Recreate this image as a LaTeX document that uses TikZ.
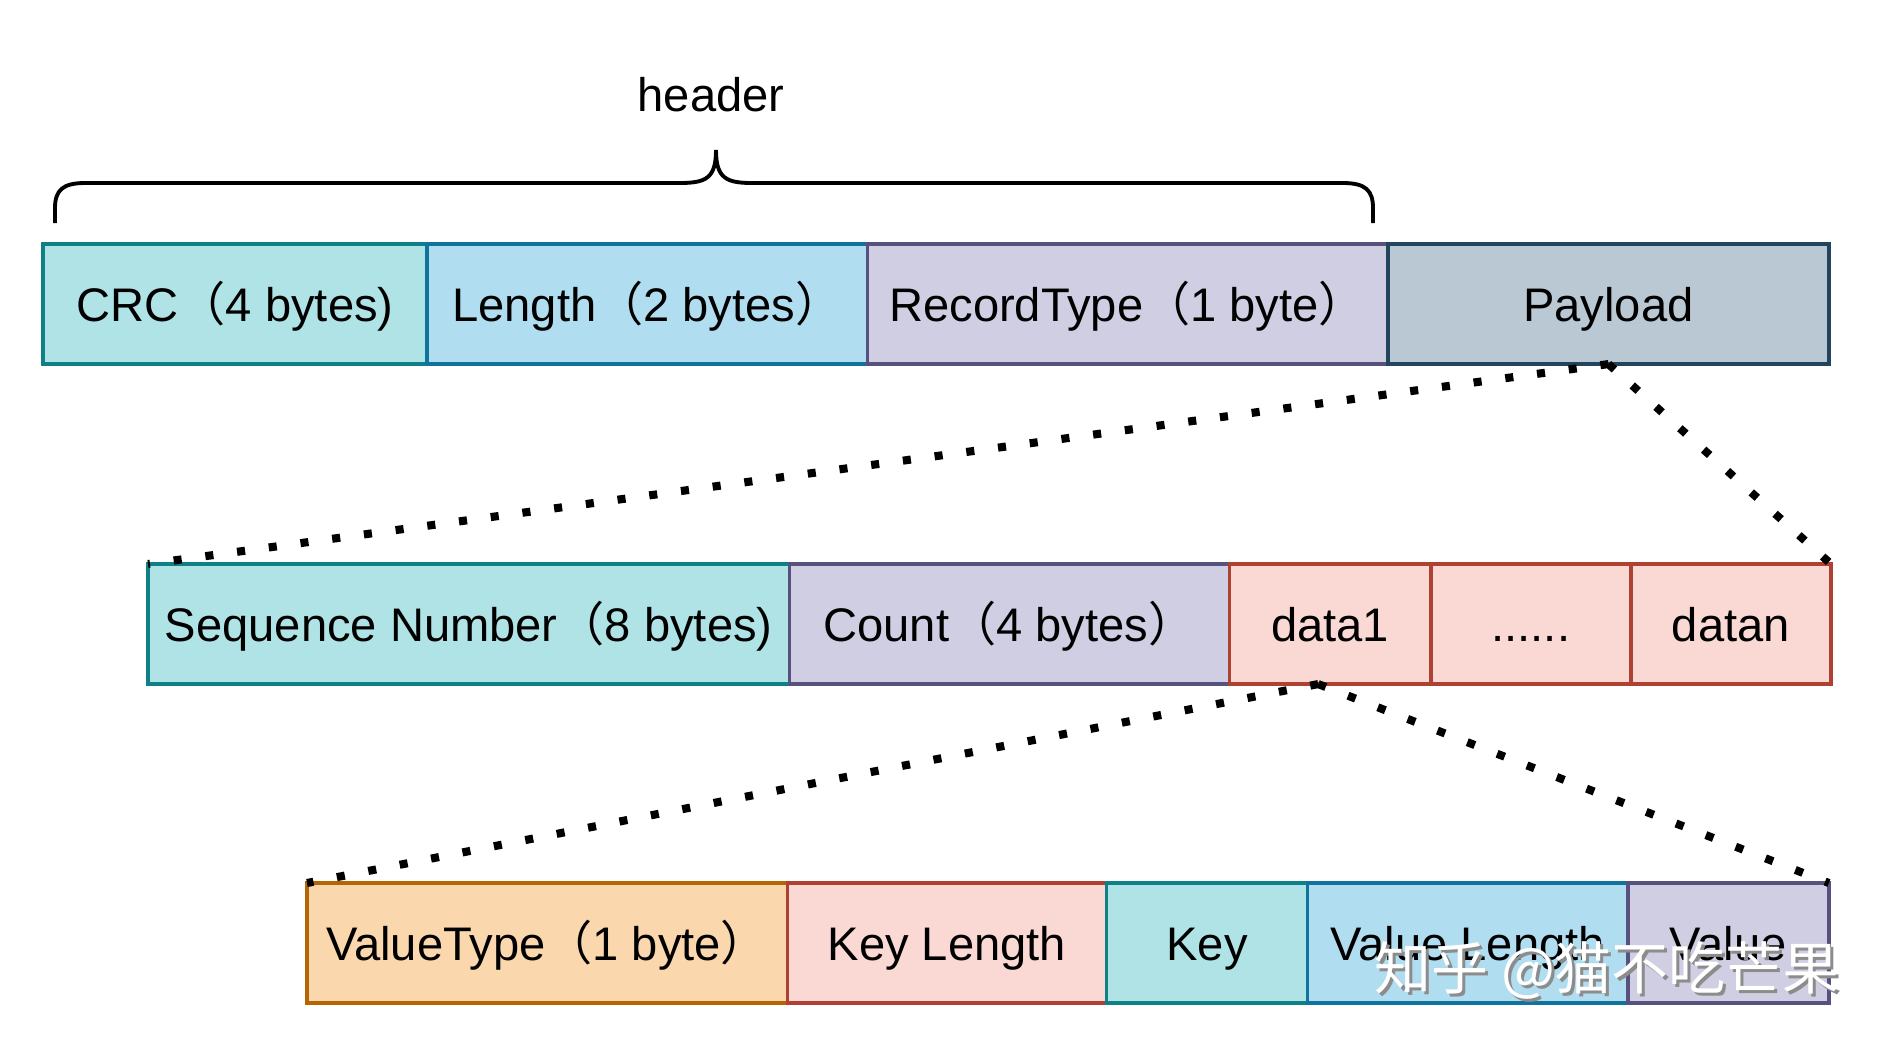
\documentclass[tikz,border=0pt]{standalone}
\usepackage{fontspec}
\setmainfont{Liberation Sans}
\newfontfamily\cjk{Noto Sans CJK SC}
\usetikzlibrary{positioning}
\definecolor{crcfill}{HTML}{B0E3E6}\definecolor{crcline}{HTML}{0E8088}
\definecolor{lenfill}{HTML}{B1DDF0}\definecolor{lenline}{HTML}{10739E}
\definecolor{typefill}{HTML}{D0CEE2}\definecolor{typeline}{HTML}{56517E}
\definecolor{payfill}{HTML}{BAC8D3}\definecolor{payline}{HTML}{23445D}
\definecolor{datafill}{HTML}{FAD9D5}\definecolor{dataline}{HTML}{AE4132}
\definecolor{vtfill}{HTML}{FAD7AC}\definecolor{vtline}{HTML}{B46504}
\newcommand{\fwparen}{{\cjk （}}
\newcommand{\fwclose}{{\cjk ）}}
\tikzset{x=0.01cm,y=-0.01cm,
field/.style={draw,line width=1pt,minimum height=1.2cm,inner sep=0pt,outer sep=0pt,text height=0.34cm,text depth=0pt,font=\fontsize{13.4}{16}\selectfont},
dotline/.style={line width=2.3pt,dash pattern=on 2.3pt off 6.8pt}}

\begin{document}
\begin{tikzpicture}
\useasboundingbox (0,0) rectangle (1888,1048);
\node[font=\fontsize{13.4}{16}\selectfont,anchor=base] (hdr) at (711,111) {header};
\coordinate (bl) at (55,223);
\coordinate (btip) at (716,150);
\coordinate (br) at (1373,223);
\draw[line width=1.1pt] (bl) -- (55,208) .. controls (55,190) and (63,183) .. (85,183) -- (680,183)
  .. controls (706,183) and (716,178) .. (btip) .. controls (716,178) and (726,183) .. (752,183)
  -- (1343,183) .. controls (1365,183) and (1373,190) .. (1373,208) -- (br);

\node[field,fill=crcfill,draw=crcline,minimum width=3.84cm,anchor=north west] (crc) at (43,244) {CRC\fwparen4 bytes)};
\node[field,fill=lenfill,draw=lenline,minimum width=4.4cm,right=0pt of crc] (len) {Length\fwparen2 bytes\fwclose};
\node[field,fill=typefill,draw=typeline,minimum width=5.2cm,right=0pt of len] (rtype) {RecordType\fwparen1 byte\fwclose};
\node[field,fill=payfill,draw=payline,minimum width=4.41cm,right=0pt of rtype] (pay) {Payload};

\node[field,fill=crcfill,draw=crcline,minimum width=6.41cm,anchor=north west] (seq) at (148,564) {Sequence Number\fwparen8 bytes)};
\node[field,fill=typefill,draw=typeline,minimum width=4.4cm,right=0pt of seq] (count) {Count\fwparen4 bytes\fwclose};
\node[field,fill=datafill,draw=dataline,minimum width=2.01cm,right=0pt of count] (data1) {data1};
\node[field,fill=datafill,draw=dataline,minimum width=2cm,right=0pt of data1] (more) {......};
\node[field,fill=datafill,draw=dataline,minimum width=2cm,right=0pt of more] (datan) {datan};

\node[field,fill=vtfill,draw=vtline,minimum width=4.8cm,anchor=north west] (vtype) at (307,883) {ValueType\fwparen1 byte\fwclose};
\node[field,fill=datafill,draw=dataline,minimum width=3.19cm,right=0pt of vtype] (klen) {Key Length};
\node[field,fill=crcfill,draw=crcline,minimum width=2.01cm,right=0pt of klen] (key) {Key};
\node[field,fill=lenfill,draw=lenline,minimum width=3.2cm,right=0pt of key] (vlen) {Value Length};
\node[field,fill=typefill,draw=typeline,minimum width=2.01cm,right=0pt of vlen] (value) {Value};

\coordinate (d1tip) at ([xshift=-0.12cm]data1.south);
\draw[dotline] (pay.south) -- (seq.north west);
\draw[dotline] (pay.south) -- (datan.north east);
\draw[dotline] (d1tip) -- (vtype.north west);
\draw[dotline] (d1tip) -- (value.north east);

\node[font=\cjk\fontsize{16.2}{19}\selectfont,text=black!45] (marksh) at (1610,973) {知乎 @猫不吃芒果};
\node[font=\cjk\fontsize{16.2}{19}\selectfont,text=white] (mark) at (1607,970) {知乎 @猫不吃芒果};
\end{tikzpicture}
\end{document}
